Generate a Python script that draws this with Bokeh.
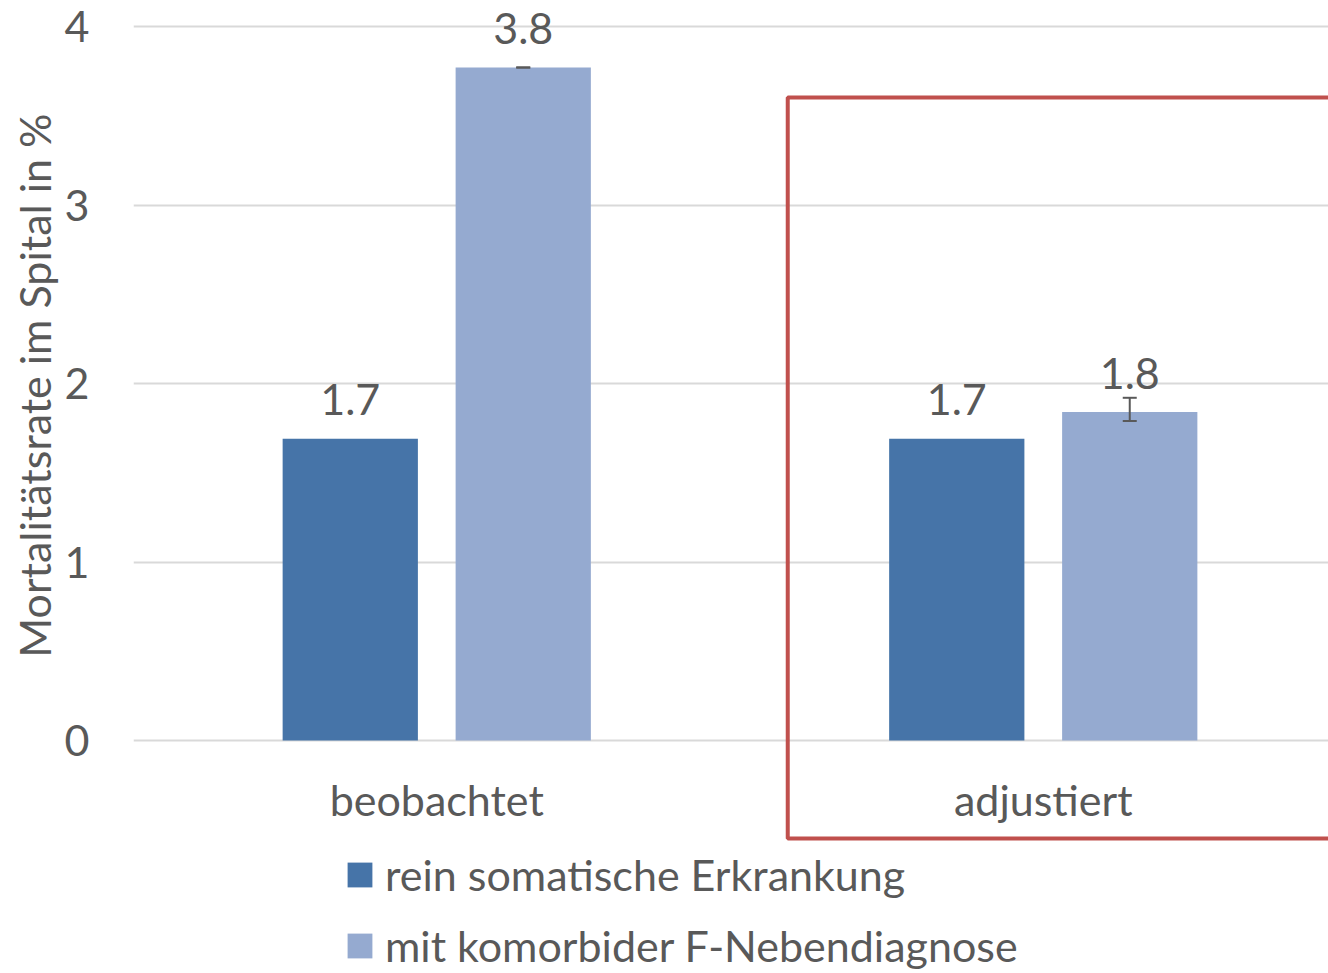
from bokeh.plotting import figure
from bokeh.models import Range1d, FixedTicker, BoxAnnotation, Whisker, TeeHead, ColumnDataSource, Legend, LegendItem, Title
from bokeh.transform import dodge
from bokeh.embed import file_html
from bokeh.resources import INLINE
from bokeh.core.properties import value

categories = ["beobachtet", "adjustiert"]
series_names = ["rein somatische Erkrankung", "mit komorbider F-Nebendiagnose"]
somatic = [1.69, 1.69]
comorbid = [3.77, 1.84]
comorbid_lower = [3.77, 1.79]
comorbid_upper = [3.77, 1.92]
y_ticks = [0, 1, 2, 3, 4]
y_title = "Mortalitätsrate im Spital in %"
colors = ["#4674A8", "#95AAD0"]

FONT = "Lato"
FS = "43px"
TXT = "#595959"
OFF = 0.1426
BW = 0.223

xs = list(range(len(categories)))
src = ColumnDataSource(dict(
    x=xs,
    x_light=[x + OFF for x in xs],
    cat=categories,
    somatic=somatic,
    comorbid=comorbid,
    lower=comorbid_lower,
    upper=comorbid_upper,
    som_lbl=[f"{v:.1f}" for v in somatic],
    com_lbl=[f"{v:.1f}" for v in comorbid],
    cat_y=[-0.33] * len(categories),
))

p = figure(width=1328, height=973, output_backend="svg", toolbar_location=None,
           x_range=Range1d(-0.5, 1.4703), y_range=Range1d(-1.3053, 4.1457),
           x_axis_location=None, min_border_left=133, min_border_top=0,
           min_border_bottom=0, min_border_right=0)
p.outline_line_color = None
p.xgrid.visible = False
p.ygrid.ticker = FixedTicker(ticks=y_ticks)
p.ygrid.grid_line_color = "#D9D9D9"
p.ygrid.grid_line_width = 2
p.yaxis.ticker = FixedTicker(ticks=y_ticks)
p.yaxis.axis_line_color = None
p.yaxis.major_tick_line_color = None
p.yaxis.minor_tick_line_color = None
p.yaxis.major_label_standoff = 38
p.yaxis.major_label_text_font = FONT
p.yaxis.major_label_text_font_size = FS
p.yaxis.major_label_text_color = TXT

ytitle = Title(text=y_title, align="right", offset=113, standoff=4,
               text_font=FONT, text_font_size=FS, text_font_style="normal",
               text_color=TXT)
p.add_layout(ytitle, "left")

r1 = p.vbar(x=dodge("x", -OFF, range=p.x_range), top="somatic", width=BW, bottom=0,
            source=src, fill_color=colors[0], line_color=None)
r2 = p.vbar(x=dodge("x", OFF, range=p.x_range), top="comorbid", width=BW, bottom=0,
            source=src, fill_color=colors[1], line_color=None)

w = Whisker(base="x_light", lower="lower", upper="upper", source=src,
            line_color="#595959", line_width=2, level="overlay",
            lower_head=TeeHead(size=14, line_color="#595959", line_width=2),
            upper_head=TeeHead(size=14, line_color="#595959", line_width=2))
p.add_layout(w)

p.text(x=dodge("x", -OFF, range=p.x_range), y="somatic", text="som_lbl", source=src,
       text_align="center", text_baseline="middle", y_offset=-39,
       text_font=value(FONT), text_font_size=FS, text_color=TXT)
p.text(x=dodge("x", OFF, range=p.x_range), y="comorbid", text="com_lbl", source=src,
       text_align="center", text_baseline="middle", y_offset=-39,
       text_font=value(FONT), text_font_size=FS, text_color=TXT)
p.text(x="x", y="cat_y", text="cat", source=src,
       text_align="center", text_baseline="middle",
       text_font=value(FONT), text_font_size=FS, text_color=TXT)

box = BoxAnnotation(left=0.5787, right=2.0, top=3.602, bottom=-0.549,
                    fill_alpha=0, line_color="#C0504D", line_alpha=1, line_width=4)
p.add_layout(box)

legend = Legend(items=[LegendItem(label=series_names[0], renderers=[r1]),
                       LegendItem(label=series_names[1], renderers=[r2])],
                location=(211, 2), orientation="vertical",
                glyph_width=31, glyph_height=31, label_standoff=10,
                spacing=20, padding=0, margin=0,
                border_line_color=None, background_fill_alpha=0,
                label_text_font=FONT, label_text_font_size=FS, label_text_color=TXT)
p.add_layout(legend)

open("out.html", "w").write(file_html(p, INLINE))
